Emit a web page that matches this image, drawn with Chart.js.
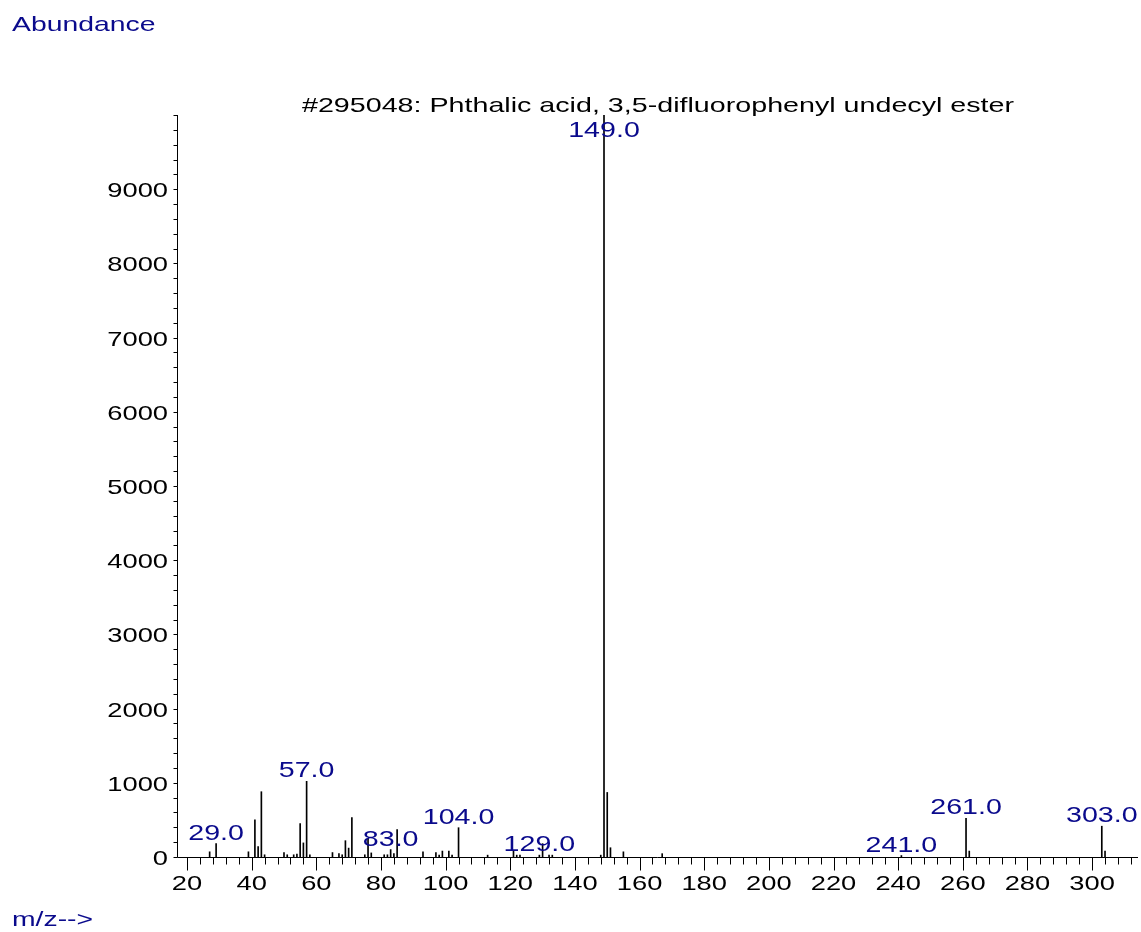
<!DOCTYPE html>
<html>
<head>
<meta charset="utf-8">
<title>Mass spectrum</title>
<script src="https://cdn.jsdelivr.net/npm/chart.js@4.4.0/dist/chart.umd.min.js"></script>
<style>
  html, body { margin: 0; padding: 0; background: #fff; }
  canvas { display: block; }
</style>
</head>
<body>
<canvas id="spectrum" width="1141" height="932"></canvas>
<script>
const chartTitle = '#295048: Phthalic acid, 3,5-difluorophenyl undecyl ester';
const yAxisTitle = 'Abundance';
const xAxisTitle = 'm/z-->';

// m/z values and abundances
const massValues = [27, 29, 39, 41, 42, 43, 44, 50, 51, 53, 54, 55, 56, 57, 58,
    65, 67, 68, 69, 70, 71, 75, 76, 77, 81, 82, 83, 84, 85,
    93, 97, 98, 99, 101, 102, 104, 113, 121, 122, 123, 129, 130, 132, 133,
    148, 149, 150, 151, 155, 167, 241, 261, 262, 303, 304];
const abundances = [70, 180, 70, 500, 140, 880, 30, 60, 30, 30, 40, 450, 190, 1020, 30,
    60, 45, 30, 220, 120, 530, 30, 250, 55, 30, 30, 100, 45, 370,
    70, 60, 25, 80, 80, 25, 395, 25, 80, 25, 25, 25, 180, 25, 25,
    25, 10000, 870, 125, 70, 45, 20, 520, 80, 415, 80];

// peaks that carry a label
const labelledPeaks = [29, 57, 83, 104, 129, 149, 241, 261, 303];

const xTickLabels = [20, 40, 60, 80, 100, 120, 140, 160, 180, 200, 220, 240, 260, 280, 300];
const yTickLabels = [0, 1000, 2000, 3000, 4000, 5000, 6000, 7000, 8000, 9000];

const NAVY = '#0a0a8c';
const FONT = "'Liberation Sans', Arial, sans-serif";
const STRETCH = 1.3; // the original text is drawn wide

function stretchedText(ctx, text, x, y, align, sx) {
    ctx.save();
    ctx.translate(x, y);
    ctx.scale(sx || STRETCH, 1);
    ctx.textAlign = align;
    ctx.textBaseline = 'alphabetic';
    ctx.fillText(text, 0, 0);
    ctx.restore();
}

const spectrumDecor = {
    id: 'spectrumDecor',
    afterDatasetsDraw(chart) {
        const ctx = chart.ctx;
        const area = chart.chartArea;
        const xs = chart.scales.x;
        const ys = chart.scales.y;
        const left = Math.round(area.left) + 0.5;
        const bottom = Math.round(area.bottom) + 0.5;

        ctx.save();
        ctx.strokeStyle = '#000';
        ctx.lineWidth = 1;

        // axis lines
        ctx.beginPath();
        ctx.moveTo(left, area.top);
        ctx.lineTo(left, bottom);
        ctx.lineTo(area.right, bottom);
        ctx.stroke();

        // y ticks every 200
        ctx.beginPath();
        for (let v = 0; v <= ys.max; v += 200) {
            const py = Math.round(ys.getPixelForValue(v)) + 0.5;
            ctx.moveTo(left - 4, py);
            ctx.lineTo(left, py);
        }
        ctx.stroke();

        // x ticks: minor every 4, major every 20
        ctx.beginPath();
        for (let v = 20; v <= xs.max; v += 4) {
            const px = Math.round(xs.getPixelForValue(v)) + 0.5;
            const len = v % 20 === 0 ? 13 : 7;
            ctx.moveTo(px, bottom);
            ctx.lineTo(px, bottom + len);
        }
        ctx.stroke();

        // tick labels
        ctx.fillStyle = '#000';
        ctx.font = '21px ' + FONT;
        yTickLabels.forEach(v => {
            stretchedText(ctx, String(v), area.left - 9, ys.getPixelForValue(v) + 8, 'right');
        });
        xTickLabels.forEach(v => {
            stretchedText(ctx, String(v), xs.getPixelForValue(v), 890, 'center');
        });

        // title, spread over the same width as the original
        ctx.font = '21px ' + FONT;
        const titleSx = 712 / ctx.measureText(chartTitle).width;
        stretchedText(ctx, chartTitle, 302, 112, 'left', titleSx);

        // axis titles
        ctx.fillStyle = NAVY;
        ctx.font = '21px ' + FONT;
        stretchedText(ctx, yAxisTitle, 12, 31, 'left', 1.35);
        stretchedText(ctx, xAxisTitle, 12, 926, 'left', 1.35);

        // peak labels
        ctx.font = '22px ' + FONT;
        labelledPeaks.forEach(m => {
            const i = massValues.indexOf(m);
            const px = xs.getPixelForValue(m);
            const top = ys.getPixelForValue(abundances[i]);
            const base = Math.max(top - 4, area.top + 22);
            stretchedText(ctx, m.toFixed(1), px, base, 'center');
        });
        ctx.restore();
    }
};

const ctx = document.getElementById('spectrum').getContext('2d');
const spectrumChart = new Chart(ctx, {
    type: 'bar',
    data: {
        datasets: [{
            data: massValues.map((m, i) => ({ x: m, y: abundances[i] })),
            backgroundColor: '#000',
            borderWidth: 0,
            barThickness: 1
        }]
    },
    options: {
        responsive: false,
        animation: false,
        devicePixelRatio: 1,
        layout: { padding: { left: 177, top: 115, right: 3, bottom: 75 } },
        plugins: {
            legend: { display: false },
            tooltip: { enabled: false }
        },
        scales: {
            x: { type: 'linear', min: 16.9, max: 314.2, offset: false, display: false },
            y: { min: 0, max: 10000, display: false }
        }
    },
    plugins: [spectrumDecor]
});
</script>
</body>
</html>
